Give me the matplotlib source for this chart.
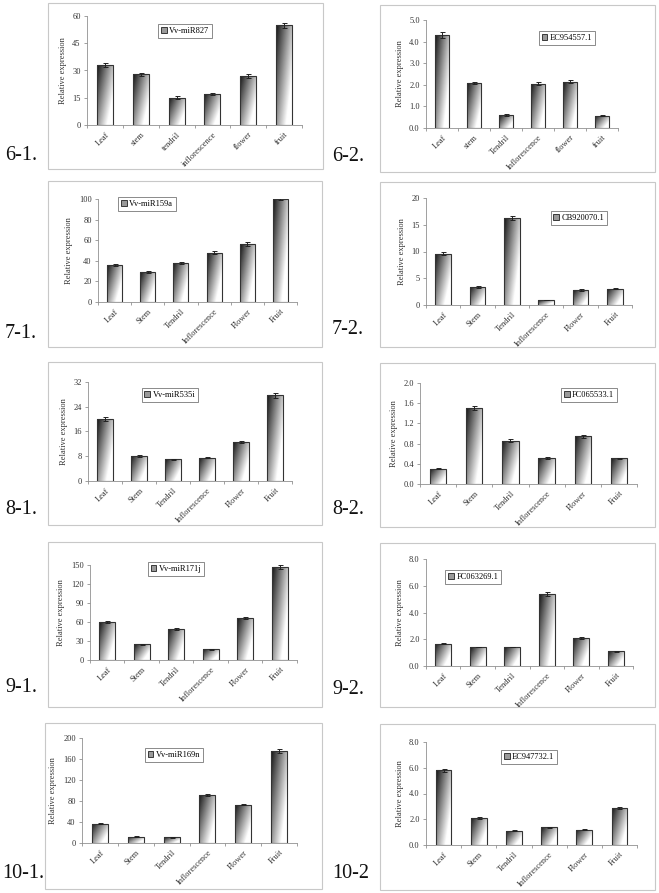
import numpy as np
import matplotlib
matplotlib.use("Agg")
import matplotlib.pyplot as plt
from matplotlib.patches import Rectangle

plt.rcParams['font.family'] = ['Liberation Serif', 'DejaVu Serif']

W, H = 659, 893

# ---- data ----
tissues_a = ["Leaf", "stem", "tendril", "inflorescence", "flower", "fruit"]
tissues_b = ["Leaf", "stem", "Tendril", "Inflorescence", "flower", "fruit"]
tissues = ["Leaf", "Stem", "Tendril", "Inflorescence", "Flower", "Fruit"]

mir827 = [33.0, 28.0, 15.0, 17.2, 27.0, 54.8]
mir827_err = [1.0, 0.8, 0.7, 0.5, 1.2, 1.5]
ec954557 = [4.3, 2.1, 0.6, 2.05, 2.15, 0.57]
ec954557_err = [0.15, 0.05, 0.03, 0.08, 0.08, 0.03]
mir159a = [36.0, 29.0, 38.0, 48.0, 56.0, 100.0]
mir159a_err = [1.2, 1.0, 1.0, 1.8, 2.0, 0.5]
cb920070 = [9.6, 3.4, 16.2, 0.9, 2.8, 3.0]
cb920070_err = [0.3, 0.15, 0.4, 0.05, 0.1, 0.1]
mir535i = [20.0, 8.1, 7.0, 7.5, 12.5, 27.7]
mir535i_err = [0.6, 0.2, 0.2, 0.15, 0.3, 0.8]
fc065533 = [0.30, 1.51, 0.86, 0.52, 0.95, 0.51]
fc065533_err = [0.01, 0.04, 0.03, 0.02, 0.03, 0.01]
mir171j = [60.0, 25.0, 49.0, 17.0, 66.0, 147.0]
mir171j_err = [1.2, 0.8, 1.0, 0.8, 1.2, 3.0]
fc063269 = [1.68, 1.42, 1.42, 5.35, 2.1, 1.1]
fc063269_err = [0.03, 0.03, 0.03, 0.15, 0.08, 0.03]
mir169n = [37.0, 12.0, 11.0, 92.0, 73.0, 175.0]
mir169n_err = [1.0, 0.6, 0.6, 2.0, 1.5, 4.0]
ec947732 = [5.8, 2.1, 1.1, 1.38, 1.2, 2.9]
ec947732_err = [0.12, 0.05, 0.03, 0.04, 0.03, 0.07]

# name, labels, values, errors, ymax, ystep, fmt, panel tag
panels = [
    ("Vv-miR827", tissues_a, mir827, mir827_err, 60, 15, "%d", "6-1."),
    ("EC954557.1", tissues_b, ec954557, ec954557_err, 5.0, 1.0, "%.1f", "6-2."),
    ("Vv-miR159a", tissues, mir159a, mir159a_err, 100, 20, "%d", "7-1."),
    ("CB920070.1", tissues, cb920070, cb920070_err, 20, 5, "%d", "7-2."),
    ("Vv-miR535i", tissues, mir535i, mir535i_err, 32, 8, "%d", "8-1."),
    ("FC065533.1", tissues, fc065533, fc065533_err, 2.0, 0.4, "%.1f", "8-2."),
    ("Vv-miR171j", tissues, mir171j, mir171j_err, 150, 30, "%d", "9-1."),
    ("FC063269.1", tissues, fc063269, fc063269_err, 8.0, 2.0, "%.1f", "9-2."),
    ("Vv-miR169n", tissues, mir169n, mir169n_err, 200, 40, "%d", "10-1."),
    ("EC947732.1", tissues, ec947732, ec947732_err, 8.0, 2.0, "%.1f", "10-2"),
]

# layout in pixels: box (x0, y0, x1, y1), axes (left, top, right, zero), legend centre, tag pos
layout = [
    ((48, 3, 323, 169), (87, 16, 302, 125), (185, 31), (5, 155)),
    ((380, 5, 655, 172), (426, 20, 618, 128), (567, 38), (332, 157)),
    ((48, 181, 322, 347), (98, 199, 297, 302), (147, 204), (5, 333)),
    ((380, 182, 655, 347), (426, 198, 632, 305), (579, 218), (332, 330)),
    ((48, 362, 322, 525), (88, 382, 292, 481), (170, 395), (5, 509)),
    ((380, 363, 655, 527), (420, 383, 637, 484), (589, 395), (332, 510)),
    ((48, 542, 322, 707), (90, 565, 297, 660), (176, 569), (5, 688)),
    ((380, 543, 655, 707), (426, 559, 633, 666), (473, 577), (332, 690)),
    ((45, 723, 322, 889), (82, 738, 297, 843), (174, 755), (2, 873)),
    ((380, 724, 655, 890), (426, 742, 637, 845), (529, 757), (332, 873)),
]

fig = plt.figure(figsize=(W / 100, H / 100), dpi=100)

gy, gx = np.mgrid[0:1:80j, 0:1:40j]
grad = 0.08 + 0.92 * np.clip(0.75 * gx + 0.55 * gy, 0, 1)


def gradient_bars(ax, bars):
    for b in bars:
        x0, w, h = b.get_x(), b.get_width(), b.get_height()
        im = ax.imshow(grad, cmap='gray', vmin=0, vmax=1, aspect='auto',
                       extent=(x0, x0 + w, 0, h), origin='upper', zorder=2)
        im.set_clip_path(b)
        b.set_facecolor('none')
        b.set_zorder(3)


for (name, labels, vals, errs, ymax, ystep, fmt, tag), (box, ar, leg, tpos) in zip(panels, layout):
    bx0, by0, bx1, by1 = box
    fig.patches.append(Rectangle((bx0 / W, 1 - by1 / H), (bx1 - bx0) / W, (by1 - by0) / H,
                                 transform=fig.transFigure, fill=False,
                                 edgecolor='#c8c8c8', linewidth=0.8))
    l, t, r, z = ar
    ax = fig.add_axes([l / W, 1 - z / H, (r - l) / W, (z - t) / H])
    x = np.arange(len(vals))
    bars = ax.bar(x, vals, width=0.45, edgecolor='#333333', linewidth=0.8,
                  label=name)
    gradient_bars(ax, bars)
    ax.errorbar(x, vals, yerr=errs, fmt='none', ecolor='#222222', elinewidth=0.7,
                capsize=1.8, capthick=0.7, zorder=4)
    ax.set_xlim(-0.5, len(vals) - 0.5)
    ax.set_ylim(0, ymax)
    ticks = np.arange(0, ymax + ystep / 2, ystep)
    ax.set_yticks(ticks)
    ax.set_yticklabels([fmt % v for v in ticks], fontsize=6, color='#333333')
    ax.set_xticks(x)
    ax.set_xticklabels(labels, rotation=45, ha='right', va='top',
                       rotation_mode='anchor', fontsize=6, color='#333333')
    ax.set_xticks(np.arange(-0.5, len(vals)), minor=True)
    ax.tick_params(axis='x', which='major', length=0, pad=4)
    ax.tick_params(axis='x', which='minor', length=2.5, color='#909090', width=0.6)
    ax.tick_params(axis='y', length=2.5, color='#909090', width=0.6, pad=2)
    for s in ('top', 'right'):
        ax.spines[s].set_visible(False)
    for s in ('left', 'bottom'):
        ax.spines[s].set_color('#909090')
        ax.spines[s].set_linewidth(0.6)
    ax.set_ylabel("Relative expression", fontsize=6, color='#333333', labelpad=4)
    ax.set_facecolor('none')

    handle = Rectangle((0, 0), 1, 1, facecolor='#9a9a9a', edgecolor='#222222', linewidth=0.6)
    lg = ax.legend([handle], [name], loc='center',
                   bbox_to_anchor=(leg[0] / W, 1 - leg[1] / H),
                   bbox_transform=fig.transFigure, fontsize=6, frameon=True,
                   fancybox=False, handlelength=0.7, handleheight=0.7,
                   handletextpad=0.3, borderpad=0.35, borderaxespad=0)
    lg.get_frame().set_edgecolor('#555555')
    lg.get_frame().set_linewidth(0.6)

    fig.text(tpos[0] / W, 1 - tpos[1] / H, tag, fontsize=14.5, va='center', ha='left',
             color='#111111')

fig.savefig("out.png", dpi=100, facecolor='white')
